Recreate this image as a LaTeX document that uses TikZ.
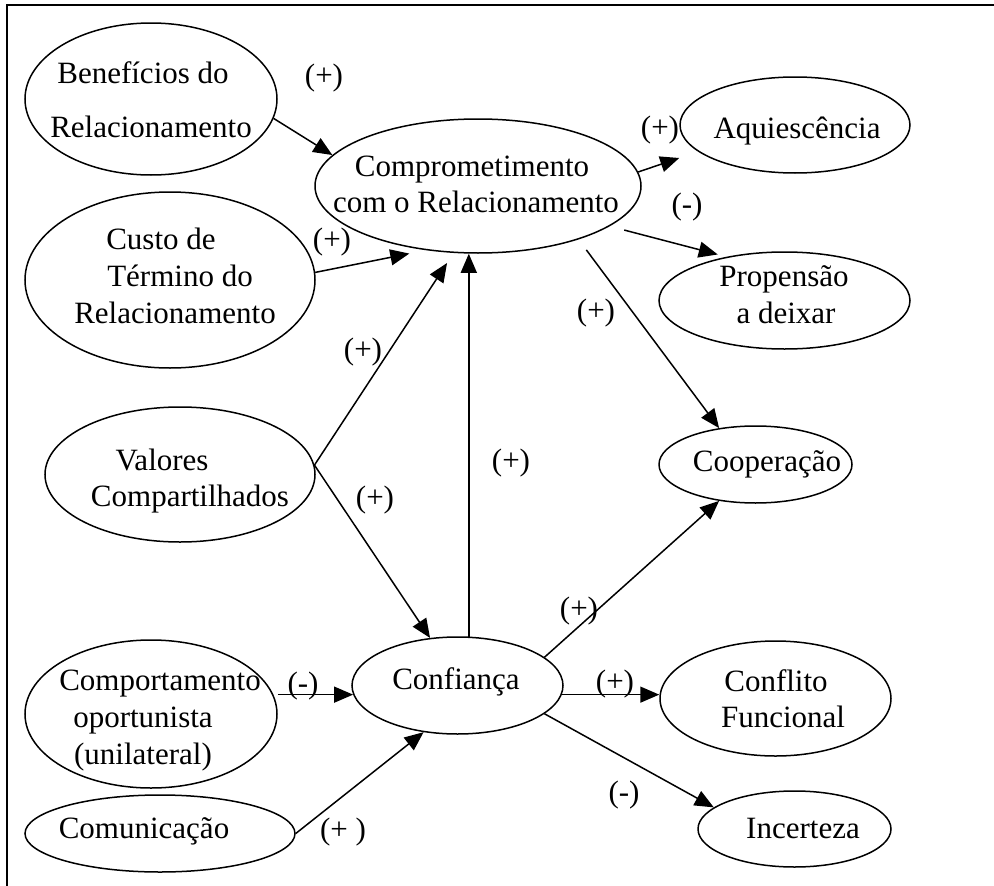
\documentclass[tikz,border=0pt]{standalone}
\usepackage{fontspec}
\setmainfont{Liberation Serif}
\usetikzlibrary{arrows.meta,shapes.geometric}
\newcommand\lin[2]{\makebox[0pt]{\hspace*{#1}\hspace*{#1}\strut #2}}
\begin{document}
\begin{tikzpicture}[x=1pt,y=-1pt,
  font=\fontsize{31}{36.7}\selectfont,
  ell/.style 2 args={draw, ellipse, line width=1.5pt, inner sep=0pt, minimum width=#1pt, minimum height=#2pt},
  txt/.style={align=center, inner sep=0pt},
  lbl/.style={inner sep=0pt},
  arr/.style={line width=1.5pt, -{Triangle[length=19pt,width=16pt]}}]
\useasboundingbox (0,0) rectangle (994,886);
% frame
\draw[line width=2pt] (6.5,886) -- (6.5,4.5) -- (994,4.5);
% ellipses
\node[ell={252}{152}] (ben) at (151,99) {};
\node[ell={326}{134}] (com) at (478,186) {};
\node[ell={230}{96}] (aqu) at (795,125) {};
\node[ell={251}{97}] (pro) at (784.5,300.5) {};
\node[ell={290}{176}] (cus) at (170,280) {};
\node[ell={270}{135}] (val) at (180,474.5) {};
\node[ell={193}{77}] (coo) at (755.5,464.5) {};
\node[ell={211}{97}] (cnf) at (457.5,685.5) {};
\node[ell={252}{148}] (cpt) at (151,714) {};
\node[ell={270}{77}] (cmu) at (160,833.5) {};
\node[ell={231}{115}] (clf) at (775.5,698.5) {};
\node[ell={193}{76}] (inc) at (794.5,829) {};
% texts
\node[txt] (ben-t) at (147,103.65) {\lin{-4pt}{Benefícios do}\\[17.3pt]\lin{4pt}{Relacionamento}};
\node[txt] (com-t) at (474,187.15) {\lin{-2pt}{Comprometimento}\\\lin{2pt}{com o Relacionamento}};
\node[txt] (aqu-t) at (797,131.65) {\lin{0pt}{Aquiescência}};
\node[txt] (pro-t) at (785,297.65) {\lin{-1pt}{Propensão}\\\lin{1pt}{a deixar}};
\node[txt] (cus-t) at (170,279.15) {\lin{-9pt}{Custo de}\\\lin{10pt}{Término do}\\\lin{5pt}{Relacionamento}};
\node[txt] (val-t) at (176,481.15) {\lin{-14pt}{Valores}\\\lin{14pt}{Compartilhados}};
\node[txt] (coo-t) at (767,464.65) {\lin{0pt}{Cooperação}};
\node[txt] (cnf-t) at (456,682.65) {\lin{0pt}{Confiança}};
\node[txt] (cpt-t) at (150,720.15) {\lin{10pt}{Comportamento}\\\lin{-7pt}{oportunista}\\\lin{-7pt}{(unilateral)}};
\node[txt] (cmu-t) at (144,831.65) {\lin{0pt}{Comunicação}};
\node[txt] (clf-t) at (780,702.15) {\lin{-4pt}{Conflito}\\\lin{3pt}{Funcional}};
\node[txt] (inc-t) at (803,831.65) {\lin{0pt}{Incerteza}};
% connectors
\draw[arr] (ben.-9) -- (com.168.4);
\draw[arr, shorten >=17pt] (cus.3.2) -- (com.231.3);
\draw[arr, shorten >=12pt] (val.4.06) -- (com.250.5);
\draw[arr] (val.4.06) -- (cnf.120);
\draw[arr] (cnf.77.7) -- (cnf.77.7 |- com.south);
\draw[arr] (com.5) -- ([yshift=-33pt]aqu.west);
\draw[arr, shorten <=15pt, shorten >=9pt] (com.-17.5) -- (pro.143.9);
\draw[arr, shorten <=13pt] (com.-28.9) -- (coo.135.8);
\draw[arr] (cnf.18) -- (coo.225);
\draw[arr] (cnf.-5.25) -- (cnf.-5.25 -| clf.west);
\draw[arr] (cnf.-18) -- (inc.165.5);
\draw[arr] (cnf.185.25 -| cpt.east) -- (cnf.185.25);
\draw[arr] (cmu.east) -- (cnf.234.6);
% labels
\node[lbl] (l1) at (324,78) {(+)};
\node[lbl] (l2) at (332,242) {(+)};
\node[lbl] (l3) at (660,130) {(+)};
\node[lbl] (l4) at (687,207) {(-)};
\node[lbl] (l5) at (596,313) {(+)};
\node[lbl] (l6) at (363,352) {(+)};
\node[lbl] (l7) at (375,500) {(+)};
\node[lbl] (l8) at (511,463) {(+)};
\node[lbl] (l9) at (579,611) {(+)};
\node[lbl] (l10) at (615,684) {(+)};
\node[lbl] (l11) at (624,795) {(-)};
\node[lbl] (l12) at (303,686) {(-)};
\node[lbl] (l13) at (343,832) {(+ )};
\end{tikzpicture}
\end{document}
